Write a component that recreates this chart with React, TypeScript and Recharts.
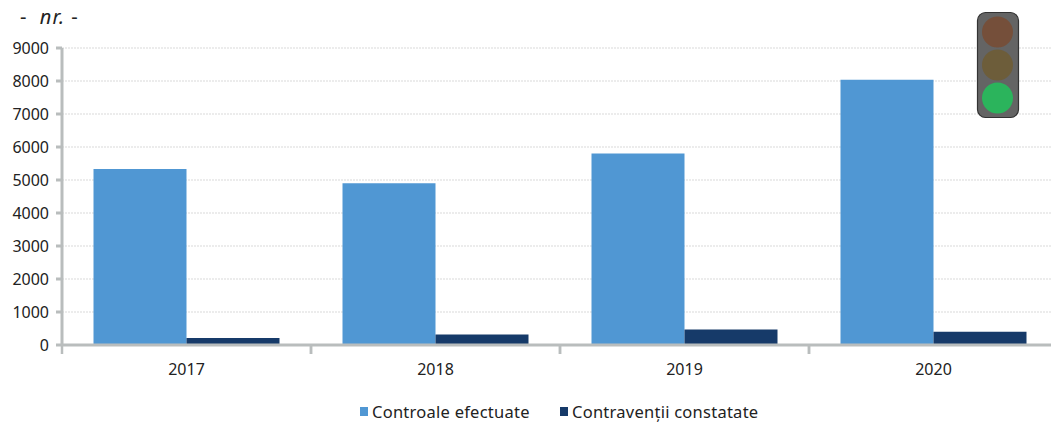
import { BarChart, Bar, XAxis, YAxis, CartesianGrid, Legend } from "recharts";

const years = ["2017", "2018", "2019", "2020"];
const controale = [5330, 4900, 5800, 8040];
const contraventii = [210, 320, 470, 400];
const yTicks = [0, 1000, 2000, 3000, 4000, 5000, 6000, 7000, 8000, 9000];

const chartData = years.map((year, i) => ({
  year,
  controale: controale[i],
  contraventii: contraventii[i],
}));

const FONT = "'Noto Sans', sans-serif";
const AXIS_GREY = "#b9bdbd";
const CATEGORY_WIDTH = 249;

// ticks sit between the categories, not under the labels
function YearTick({ x, y, payload }: any) {
  return (
    <g>
      <line x1={x + CATEGORY_WIDTH / 2} x2={x + CATEGORY_WIDTH / 2} y1={y - 8} y2={y + 1} stroke={AXIS_GREY} strokeWidth={2.5} />
      <line x1={x - CATEGORY_WIDTH / 2} x2={x - CATEGORY_WIDTH / 2} y1={y - 8} y2={y + 1} stroke={AXIS_GREY} strokeWidth={2.5} />
      <text x={x} y={y + 22} textAnchor="middle" fontSize={16} fontFamily={FONT} fill="#222">
        {payload.value}
      </text>
    </g>
  );
}

function LegendBox() {
  const items = [
    { label: "Controale efectuate", color: "#5097d3", left: 360 },
    { label: "Contravenții constatate", color: "#163a69", left: 560 },
  ];
  return (
    <div style={{ position: "relative", height: 24, top: 2, fontFamily: FONT, fontSize: 16.5, letterSpacing: 0.25, color: "#222" }}>
      {items.map((it) => (
        <div key={it.label} style={{ position: "absolute", left: it.left, top: 0, display: "flex", alignItems: "center", whiteSpace: "nowrap" }}>
          <span style={{ width: 8, height: 9, background: it.color, marginRight: 4 }} />
          <span>{it.label}</span>
        </div>
      ))}
    </div>
  );
}

function TrafficLight() {
  return (
    <svg width={50} height={110} style={{ position: "absolute", left: 972, top: 10 }}>
      <rect x={5.5} y={2.5} width={41} height={105} rx={8} fill="#646464" stroke="#333" strokeWidth={1.2} />
      <circle cx={25.5} cy={22} r={15.5} fill="#754f3a" />
      <circle cx={25.5} cy={55} r={15.5} fill="#6d5d3a" />
      <circle cx={25.5} cy={88} r={15.5} fill="#2bb45c" />
    </svg>
  );
}

export default function App() {
  return (
    <div style={{ position: "absolute", left: 0, top: 0, width: 1051, height: 422, overflow: "hidden", background: "#fff" }}>
      <div style={{ position: "absolute", left: 20, top: 3, fontFamily: FONT, fontSize: 20, letterSpacing: 1, color: "#222", whiteSpace: "pre" }}>
        <span>-  </span>
        <i>nr.</i>
        <span> -</span>
      </div>
      <BarChart
        width={1060}
        height={422}
        data={chartData}
        barCategoryGap={31.5}
        barGap={0}
        margin={{ top: 48, right: 2, left: 0, bottom: 20 }}
      >
        <CartesianGrid vertical={false} stroke="#d9d9d9" strokeDasharray="2 1" />
        <XAxis
          dataKey="year"
          stroke={AXIS_GREY}
          strokeWidth={3}
          tickLine={false}
          tick={<YearTick />}
          height={33}
          interval={0}
        />
        <YAxis
          width={62}
          domain={[0, 9000]}
          ticks={yTicks}
          interval={0}
          stroke={AXIS_GREY}
          strokeWidth={3}
          tickSize={6}
          tickMargin={7}
          tick={{ fontSize: 16, fontFamily: FONT, fill: "#222" }}
        />
        <Bar dataKey="controale" fill="#5097d3" isAnimationActive={false} />
        <Bar dataKey="contraventii" fill="#163a69" isAnimationActive={false} />
        <Legend verticalAlign="bottom" content={<LegendBox />} wrapperStyle={{ left: 0, width: 1060, bottom: 0 }} />
      </BarChart>
      <TrafficLight />
    </div>
  );
}
